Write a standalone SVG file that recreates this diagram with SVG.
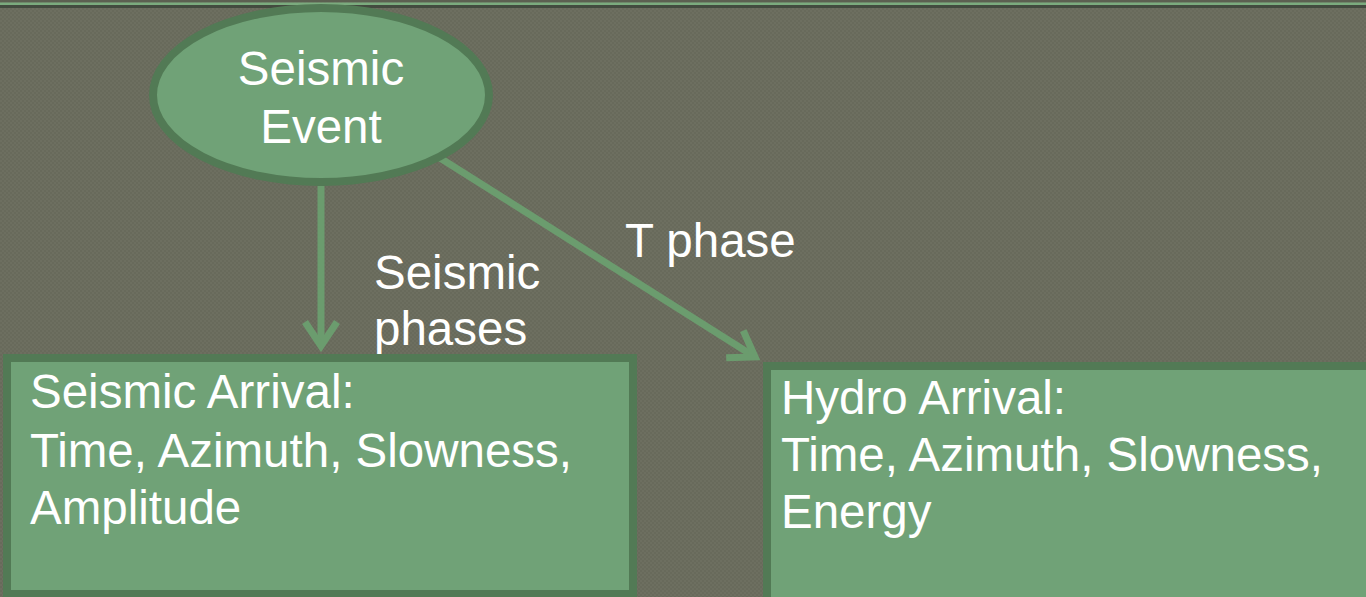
<svg xmlns="http://www.w3.org/2000/svg" width="1366" height="597" viewBox="0 0 1366 597">
  <style>
    .bg { fill: #686a5b; }
    .node { fill: #70a277; stroke: #527a55; stroke-width: 8; }
    .txt { font-family: "Liberation Sans", Arial, sans-serif; fill: #ffffff; font-size: 47.5px; }
    .lbl { font-family: "Liberation Sans", Arial, sans-serif; fill: #ffffff; font-size: 47.5px; }
    .conn { fill: none; stroke: #6b9c6e; stroke-width: 7; }
  </style>
  <defs>
    <pattern id="dots" width="4" height="4" patternUnits="userSpaceOnUse">
      <rect width="4" height="4" fill="#686a5b"/>
      <rect width="2" height="2" fill="#6d6f60"/>
      <rect x="2" y="2" width="2" height="2" fill="#6d6f60"/>
    </pattern>
    <marker id="arrow" markerUnits="userSpaceOnUse" markerWidth="40" markerHeight="40" refX="0" refY="0" orient="auto" overflow="visible">
      <path d="M-24,-16 L0,0 L-24,16" fill="none" stroke="#6b9c6e" stroke-width="7" stroke-linejoin="miter"/>
    </marker>
  </defs>
  <rect class="bg" x="0" y="0" width="1366" height="597"/>
  <rect x="0" y="0" width="1366" height="597" fill="url(#dots)"/>
  <rect x="0" y="0" width="1366" height="2.5" fill="#5c6051"/>
  <rect x="0" y="2.5" width="1366" height="2.5" fill="#7bab7e"/>
  <rect x="0" y="5" width="1366" height="3" fill="#434b3f"/>

  <g id="connectors">
    <path class="conn" d="M321,186 L321,346" marker-end="url(#arrow)"/>
    <path class="conn" d="M440,158 L755,357" marker-end="url(#arrow)"/>
    <text class="lbl" x="374" y="289">Seismic</text>
    <text class="lbl" x="374" y="345">phases</text>
    <text class="lbl" x="625" y="257">T phase</text>
  </g>

  <g id="seismic-event">
    <ellipse class="node" cx="321" cy="95" rx="168" ry="87"/>
    <text class="txt" x="321" y="85" text-anchor="middle">Seismic</text>
    <text class="txt" x="321" y="143" text-anchor="middle">Event</text>
  </g>

  <g id="seismic-arrival">
    <rect class="node" x="7" y="358" width="626" height="236"/>
    <text class="txt" x="30" y="408">Seismic Arrival:</text>
    <text class="txt" x="30" y="467">Time, Azimuth, Slowness,</text>
    <text class="txt" x="30" y="524">Amplitude</text>
  </g>

  <g id="hydro-arrival">
    <rect class="node" x="767" y="366" width="620" height="250"/>
    <text class="txt" x="781" y="414">Hydro Arrival:</text>
    <text class="txt" x="781" y="471">Time, Azimuth, Slowness,</text>
    <text class="txt" x="781" y="528">Energy</text>
  </g>
</svg>
